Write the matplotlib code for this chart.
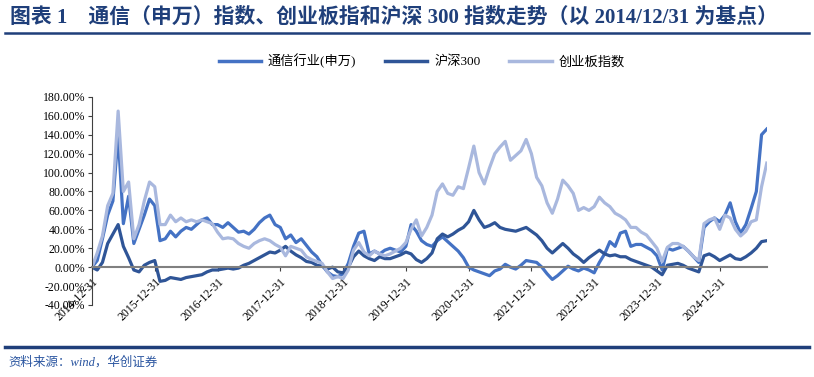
import matplotlib
matplotlib.use("Agg")
import matplotlib.pyplot as plt
from matplotlib.lines import Line2D

# month-end points, index 0 = 2014-12-31, one value per month (%)
tongxin = [0, 7, 30, 55, 70, 140, 46, 75, 25, 40, 55, 72,
           65, 28, 30, 38, 32, 38, 42, 40, 45, 50, 52, 45,
           45, 42, 47, 42, 37, 38, 35, 40, 47, 52, 55, 45,
           42, 30, 34, 26, 30, 23, 16, 11, 2, -5, -9, -10,
           -7, 4, 22, 36, 38, 14, 17, 14, 18, 20, 18, 16,
           22, 45, 38, 28, 24, 22, 28, 32, 27, 22, 17, 10,
           0, -3, -5, -7, -9, -4, -2, 3, 0, -2, 2, 7,
           6, 5, 0, -7, -13, -9, -4, 1, -2, -4, -1, -3,
           -6, 5, 14, 27, 22, 36, 38, 22, 24, 24, 21, 18,
           12, -3, 20, 18, 20, 22, 17, 11, 5, 42, 48, 52,
           48, 55, 68, 48, 36, 45, 62, 80, 140, 146]

hs300 = [0, -3, 5, 25, 35, 45, 22, 10, -3, -5, 2, 5,
         7, -15, -14, -11, -12, -13, -11, -10, -9, -8, -5, -3,
         -3, -2, -1, -2, -1, 2, 4, 7, 10, 13, 16, 15,
         18, 22, 17, 13, 10, 6, 5, 2, 1, -2, 0, -5,
         -6, 0, 11, 17, 12, 9, 7, 11, 9, 9, 11, 13,
         16, 14, 8, 5, 9, 15, 30, 35, 32, 35, 39, 42,
         48, 60, 50, 42, 44, 47, 42, 40, 39, 38, 40, 42,
         38, 34, 28, 20, 15, 20, 25, 20, 14, 10, 5, 10,
         14, 18, 14, 12, 13, 11, 11, 8, 6, 4, 2, 0,
         -4, -8, 2, 3, 4, 2, -1, -3, -5, 12, 14, 11,
         7, 10, 13, 9, 8, 11, 15, 20, 27, 28]

chinext = [0, 15, 33, 65, 78, 165, 80, 90, 30, 45, 70, 90,
           85, 45, 45, 55, 48, 52, 48, 50, 48, 50, 48, 46,
           37, 30, 31, 30, 25, 22, 20, 25, 28, 30, 28, 24,
           21, 12, 22, 20, 18, 11, 8, 6, 4, -5, -12, -10,
           -12, -3, 18, 26, 16, 12, 17, 14, 12, 14, 17, 20,
           26, 40, 50, 33, 42, 55, 80, 88, 78, 76, 85, 83,
           105, 128, 100, 88, 105, 120, 127, 133, 113, 118, 123, 135,
           120, 95, 86, 68, 57, 72, 92, 86, 78, 60, 63, 60,
           64, 74, 68, 64, 57, 54, 50, 42, 42, 37, 34, 27,
           20, 6, 21, 25, 25, 22, 17, 11, 7, 46, 50, 52,
           40, 55, 52, 40, 33, 38, 48, 50, 85, 110]

tick_labels = [f"{y}-12-31" for y in range(2014, 2025)]
names = ["通信行业(申万)", "沪深300", "创业板指数"]
colors = ["#4472C4", "#2F5597", "#A9B8DE"]

serif_cjk = ["Liberation Serif", "Noto Sans CJK SC"]
navy = "#1F3F7A"

fig = plt.figure(figsize=(8.14, 3.77), dpi=100)
ax = fig.add_axes([0.113, 0.191, 0.829, 0.552])

x = range(len(tongxin))
for vals, name, c in zip([tongxin, hs300, chinext], names, colors):
    ax.plot(x, vals, color=c, lw=2.3, label=name, solid_joinstyle="round")

# spine moves first: set_position resets the ticks
for s in ["top", "right"]:
    ax.spines[s].set_visible(False)
ax.spines["left"].set_color("#404040")
ax.spines["left"].set_linewidth(0.8)
ax.spines["bottom"].set_position(("data", 0))
ax.spines["bottom"].set_color("#808080")
ax.spines["bottom"].set_linewidth(1.5)

ax.set_xlim(0, len(tongxin) - 1)
ax.set_ylim(-40, 180)
ax.set_yticks(range(-40, 181, 20))
ax.set_yticklabels([f"{v:.2f}%" for v in range(-40, 181, 20)],
                   family="Liberation Serif", fontsize=8.5)
ax.set_xticks([12 * i for i in range(len(tick_labels))])
ax.set_xticklabels(tick_labels, rotation=45, ha="right", va="top",
                   rotation_mode="anchor", family="Liberation Serif", fontsize=8.5)
ax.tick_params(axis="y", direction="out", length=3, width=0.8, color="#404040", pad=2)
ax.tick_params(axis="x", direction="out", length=3, width=0.8, color="#404040", pad=3)

handles = [Line2D([], [], color=c, lw=2.5) for c in colors]
fig.legend(handles, names, loc="center", bbox_to_anchor=(0.518, 0.838), ncol=3,
           frameon=False, prop={"family": serif_cjk, "size": 9.5},
           handlelength=3.2, columnspacing=2.2, handletextpad=0.5)

fig.text(0.012, 0.953, "图表 1    通信（申万）指数、创业板指和沪深 300 指数走势（以 2014/12/31 为基点）",
         family=serif_cjk, fontweight="bold", fontsize=15, color=navy, va="center")
fig.add_artist(Line2D([0.006, 0.994], [0.912, 0.912], color=navy, lw=1.8))
fig.add_artist(Line2D([0.006, 0.994], [0.0796, 0.0796], color=navy, lw=2.5))
fig.text(0.01, 0.038, "资料来源：wind，华创证券", family=serif_cjk, style="italic",
         fontsize=9, color="#2A55A0", va="center")

fig.savefig("out.png", dpi=100)
